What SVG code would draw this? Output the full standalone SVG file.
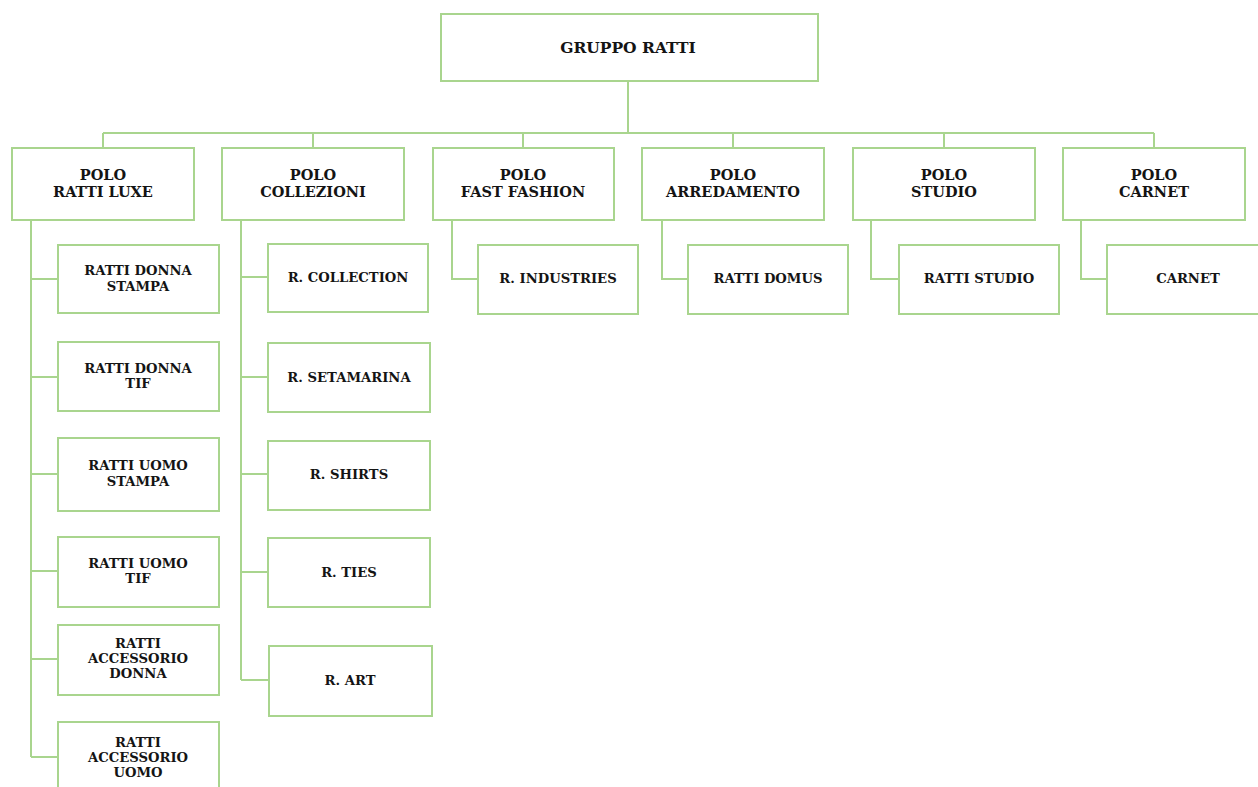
<svg xmlns="http://www.w3.org/2000/svg" width="1258" height="787" viewBox="0 0 1258 787">
<style>
.box{fill:#fff;stroke:#a9d58e;stroke-width:2}
.ln{fill:none;stroke:#a9d58e;stroke-width:2}
text{font-family:"DejaVu Serif","Liberation Serif",serif;font-weight:bold;fill:#141414;text-anchor:middle}
.t0{font-size:15.5px}
.t1{font-size:14.5px}
.t2{font-size:13.2px}
</style>
<rect width="1258" height="787" fill="#fff"/>
<g id="connectors" class="ln">
<path d="M628 82V133M103 133H1154M103 133V148M313 133V148M523 133V148M733 133V148M944 133V148M1154 133V148"/>
<path d="M31 220V757M31 279H58M31 377H58M31 474H58M31 571H58M31 659H58M31 757H58"/>
<path d="M241 220V680M241 277H268M241 377H268M241 474H268M241 572H268M241 680H269"/>
<path d="M452 220V279H478M662 220V279H688M871 220V279H899M1081 220V279H1107"/>
</g>
<g id="gruppo"><rect class="box" x="441" y="14" width="377" height="67"/><text class="t0" x="628" y="53">GRUPPO RATTI</text></g>
<g id="polo-luxe"><rect class="box" x="12" y="148" width="182" height="72"/><text class="t1" x="103" y="180">POLO</text><text class="t1" x="103" y="197">RATTI LUXE</text></g>
<g id="polo-collezioni"><rect class="box" x="222" y="148" width="182" height="72"/><text class="t1" x="313" y="180">POLO</text><text class="t1" x="313" y="197">COLLEZIONI</text></g>
<g id="polo-fast"><rect class="box" x="433" y="148" width="181" height="72"/><text class="t1" x="523" y="180">POLO</text><text class="t1" x="523" y="197">FAST FASHION</text></g>
<g id="polo-arredamento"><rect class="box" x="642" y="148" width="182" height="72"/><text class="t1" x="733" y="180">POLO</text><text class="t1" x="733" y="197">ARREDAMENTO</text></g>
<g id="polo-studio"><rect class="box" x="853" y="148" width="182" height="72"/><text class="t1" x="944" y="180">POLO</text><text class="t1" x="944" y="197">STUDIO</text></g>
<g id="polo-carnet"><rect class="box" x="1063" y="148" width="182" height="72"/><text class="t1" x="1154" y="180">POLO</text><text class="t1" x="1154" y="197">CARNET</text></g>
<g id="donna-stampa"><rect class="box" x="58" y="245" width="161" height="68"/><text class="t2" x="138" y="275">RATTI DONNA</text><text class="t2" x="138" y="291">STAMPA</text></g>
<g id="donna-tif"><rect class="box" x="58" y="342" width="161" height="69"/><text class="t2" x="138" y="373">RATTI DONNA</text><text class="t2" x="138" y="388">TIF</text></g>
<g id="uomo-stampa"><rect class="box" x="58" y="438" width="161" height="73"/><text class="t2" x="138" y="470">RATTI UOMO</text><text class="t2" x="138" y="486">STAMPA</text></g>
<g id="uomo-tif"><rect class="box" x="58" y="537" width="161" height="70"/><text class="t2" x="138" y="568">RATTI UOMO</text><text class="t2" x="138" y="583">TIF</text></g>
<g id="acc-donna"><rect class="box" x="58" y="625" width="161" height="70"/><text class="t2" x="138" y="648">RATTI</text><text class="t2" x="138" y="663">ACCESSORIO</text><text class="t2" x="138" y="678">DONNA</text></g>
<g id="acc-uomo"><rect class="box" x="58" y="722" width="161" height="75"/><text class="t2" x="138" y="747">RATTI</text><text class="t2" x="138" y="762">ACCESSORIO</text><text class="t2" x="138" y="777">UOMO</text></g>
<g id="r-collection"><rect class="box" x="268" y="244" width="160" height="68"/><text class="t2" x="348" y="282">R. COLLECTION</text></g>
<g id="r-setamarina"><rect class="box" x="268" y="343" width="162" height="69"/><text class="t2" x="349" y="382">R. SETAMARINA</text></g>
<g id="r-shirts"><rect class="box" x="268" y="441" width="162" height="69"/><text class="t2" x="349" y="479">R. SHIRTS</text></g>
<g id="r-ties"><rect class="box" x="268" y="538" width="162" height="69"/><text class="t2" x="349" y="577">R. TIES</text></g>
<g id="r-art"><rect class="box" x="269" y="646" width="163" height="70"/><text class="t2" x="350" y="685">R. ART</text></g>
<g id="r-industries"><rect class="box" x="478" y="245" width="160" height="69"/><text class="t2" x="558" y="283">R. INDUSTRIES</text></g>
<g id="ratti-domus"><rect class="box" x="688" y="245" width="160" height="69"/><text class="t2" x="768" y="283">RATTI DOMUS</text></g>
<g id="ratti-studio"><rect class="box" x="899" y="245" width="160" height="69"/><text class="t2" x="979" y="283">RATTI STUDIO</text></g>
<g id="carnet"><rect class="box" x="1107" y="245" width="162" height="69"/><text class="t2" x="1188" y="283">CARNET</text></g>
</svg>
